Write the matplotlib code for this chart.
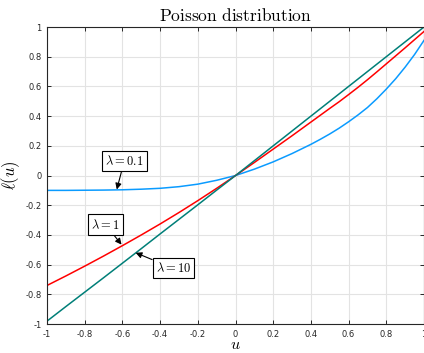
import matplotlib
matplotlib.use("Agg")
import matplotlib.pyplot as plt

plt.rcParams['mathtext.fontset'] = 'cm'

# values
u = [-1.0, -0.9, -0.8, -0.7, -0.6, -0.5, -0.4, -0.3, -0.2, -0.1, 0.0,
     0.1, 0.2, 0.3, 0.4, 0.45, 0.5, 0.55, 0.6, 0.65, 0.7, 0.75, 0.8, 0.85, 0.9, 0.95, 1.0]
l_01 = [-0.100, -0.100, -0.099, -0.098, -0.096, -0.092, -0.086, -0.075, -0.058, -0.032, 0.0,
        0.043, 0.092, 0.148, 0.210, 0.244, 0.280, 0.319, 0.362, 0.408, 0.458, 0.517, 0.582,
        0.652, 0.730, 0.815, 0.910]
l_1 = [-0.740, -0.676, -0.610, -0.542, -0.472, -0.400, -0.326, -0.249, -0.169, -0.086, 0.0,
       0.088, 0.178, 0.268, 0.360, 0.406, 0.452, 0.497, 0.545, 0.594, 0.645, 0.698, 0.752,
       0.806, 0.860, 0.915, 0.970]
l_10 = [-0.980, -0.882, -0.785, -0.688, -0.590, -0.492, -0.393, -0.295, -0.197, -0.098, 0.0,
        0.100, 0.200, 0.300, 0.400, 0.450, 0.500, 0.550, 0.600, 0.650, 0.700, 0.750, 0.800,
        0.850, 0.900, 0.950, 1.000]

labels = [r'$\lambda{=}0.1$', r'$\lambda{=}1$', r'$\lambda{=}10$']
ticks = [-1, -0.8, -0.6, -0.4, -0.2, 0, 0.2, 0.4, 0.6, 0.8, 1]
tick_labels = ['-1', '-0.8', '-0.6', '-0.4', '-0.2', '0', '0.2', '0.4', '0.6', '0.8', '1']

fig = plt.figure(figsize=(4.24, 3.53), dpi=100)
ax = fig.add_axes([0.111, 0.082, 0.889, 0.8415])

ax.plot(u, l_01, color='#0a9bff', lw=1.1)
ax.plot(u, l_1, color='#ff0000', lw=1.1)
ax.plot(u, l_10, color='#007f78', lw=1.1)

ax.set_xlim(-1, 1)
ax.set_ylim(-1, 1)
ax.set_xticks(ticks)
ax.set_xticklabels(tick_labels)
ax.set_yticks(ticks)
ax.set_yticklabels(tick_labels)
ax.tick_params(direction='in', length=3, width=0.7, labelsize=6, colors='#262626',
               top=True, right=True, pad=4)
ax.grid(True, color='#e3e3e3', lw=0.8)
ax.set_axisbelow(True)
for s in ax.spines.values():
    s.set_linewidth(0.8)
    s.set_color('#262626')

ax.set_title(r'$\mathrm{Poisson\ distribution}$', fontsize=12.5, pad=4)
ax.set_xlabel(r'$u$', fontsize=11.5, labelpad=-1)
ax.set_ylabel(r'$\ell(u)$', fontsize=12, labelpad=2)

box = dict(boxstyle='square,pad=0.25', fc='white', ec='black', lw=0.8)
arrow = dict(arrowstyle='-|>', color='black', lw=0.8, mutation_scale=9, shrinkA=0, shrinkB=0)
ax.annotate(labels[0], xy=(-0.63, -0.094), xytext=(-0.59, 0.10), fontsize=9,
            ha='center', va='center', bbox=box, arrowprops=arrow)
ax.annotate(labels[1], xy=(-0.605, -0.465), xytext=(-0.69, -0.33), fontsize=9,
            ha='center', va='center', bbox=box, arrowprops=arrow)
ax.annotate(labels[2], xy=(-0.53, -0.52), xytext=(-0.33, -0.625), fontsize=9,
            ha='center', va='center', bbox=box, arrowprops=arrow)

fig.savefig('out.png', dpi=100)
